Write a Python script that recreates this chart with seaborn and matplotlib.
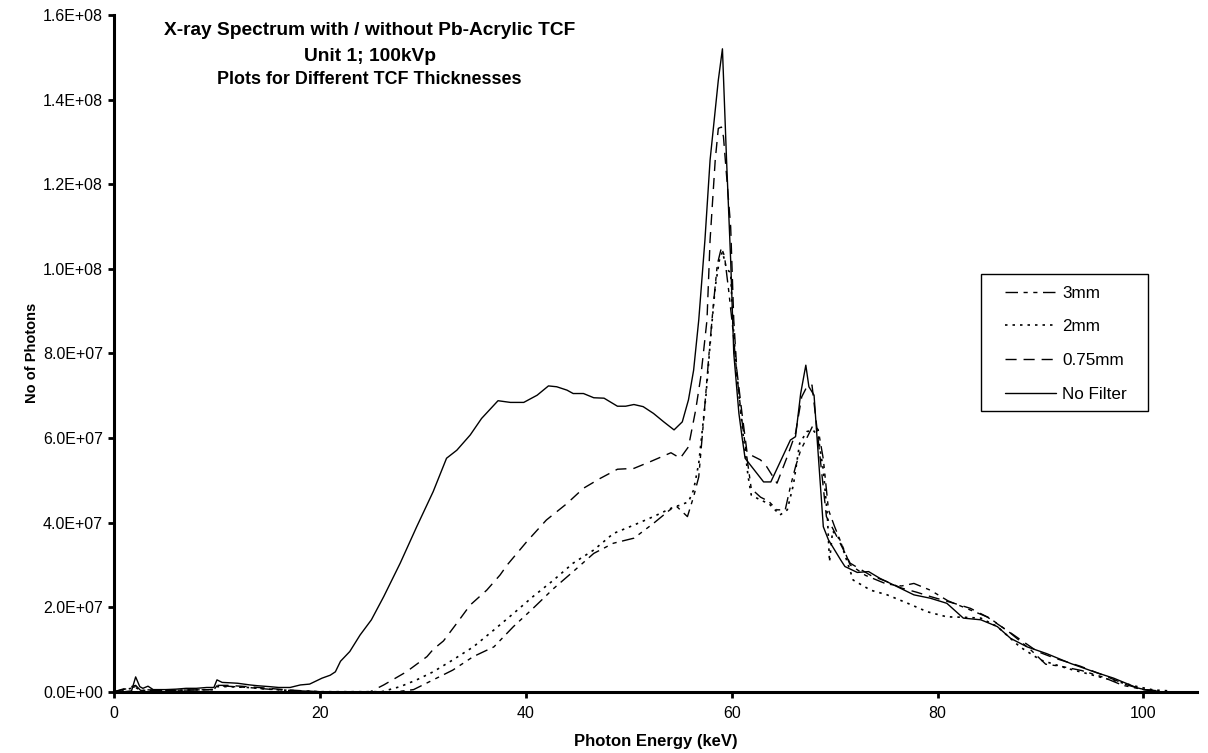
import matplotlib
matplotlib.use("Agg")
import matplotlib.pyplot as plt
import matplotlib.ticker as mticker
from matplotlib.patches import Rectangle
import seaborn as sns
import pandas as pd

# ---------------- data (values in units of 1E7 photons) ----------------
E_nofilter = [0, 1, 1.7, 2.1, 2.5, 2.8, 3.3, 3.8, 5, 6, 7, 8, 9, 9.7, 10.0, 10.5, 11.3, 12, 13.2, 14,
              15.1, 16, 17.1, 18.1, 19, 20.2, 21, 21.5, 22, 22.9, 23.9, 25.0, 26.2, 27.8, 29.4, 31.0,
              32.3, 33.3, 34.6, 35.7, 37.3, 38.5, 39.8, 41.1, 42.2, 43.0, 44.0, 44.6, 45.6, 46.6, 47.6,
              48.9, 49.7, 50.5, 51.4, 52.4, 53.4, 54.4, 55.2, 55.8, 56.3, 56.8, 57.4, 57.9, 58.7, 59.1,
              59.5, 59.9, 60.2, 60.7, 61.0, 61.3, 63.1, 63.8, 65.7, 66.2, 66.7, 67.2, 67.5, 68.0, 68.9,
              69.4, 70.6, 71.0, 72.2, 73.3, 74.4, 76.1, 77.7, 79.3, 80.9, 82.5, 84.2, 85.8, 87.1, 88.7,
              90.6, 92.9, 95.2, 97.1, 99.4, 100.5, 101.5]
V_nofilter = [0, 0, 0.02, 0.35, 0.12, 0.08, 0.13, 0.05, 0.05, 0.06, 0.08, 0.08, 0.1, 0.1, 0.28, 0.22,
              0.21, 0.2, 0.16, 0.14, 0.12, 0.1, 0.1, 0.16, 0.18, 0.32, 0.39, 0.47, 0.72, 0.95, 1.34,
              1.70, 2.25, 3.04, 3.90, 4.73, 5.52, 5.71, 6.07, 6.46, 6.88, 6.84, 6.84, 7.01, 7.23, 7.21,
              7.13, 7.05, 7.05, 6.95, 6.94, 6.75, 6.75, 6.79, 6.74, 6.58, 6.38, 6.19, 6.38, 6.9, 7.6,
              8.79, 10.68, 12.57, 14.46, 15.2, 12.57, 10.2, 8.0, 6.58, 6.03, 5.52, 4.96, 4.96, 5.95,
              6.03, 7.05, 7.72, 7.21, 7.01, 3.9, 3.59, 3.11, 2.96, 2.82, 2.84, 2.68, 2.48, 2.29, 2.21,
              2.09, 1.74, 1.70, 1.54, 1.26, 1.06, 0.90, 0.67, 0.47, 0.32, 0.09, 0.03, 0.01]

E_075mm = [0, 2.1, 2.5, 5, 9.7, 10, 11, 13, 15, 17, 20, 24.9, 26.2, 28.4, 30.4, 31.0, 32.0, 33.3, 34.6,
           36.2, 37.5, 38.2, 40.1, 42.0, 44.0, 45.6, 47.2, 48.9, 50.5, 52.1, 54.1, 55.0, 55.8, 56.5,
           57.0, 57.6, 57.9, 58.4, 58.7, 59.0, 59.2, 59.9, 60.2, 60.5, 61.0, 61.5, 62.8, 63.4, 64.4,
           65.4, 66.2, 66.8, 67.3, 67.8, 68.3, 69.2, 69.9, 71.5, 73.5, 75.1, 76.5, 78.0, 79.3, 81.6,
           83.2, 84.8, 87.4, 89.7, 91.3, 93.9, 96.1, 98.4, 100, 101.5]
V_075mm = [0, 0.15, 0.05, 0.03, 0.05, 0.15, 0.15, 0.12, 0.08, 0.04, 0.0, 0.0, 0.16, 0.47, 0.83, 1.0,
           1.2, 1.62, 2.05, 2.40, 2.76, 3.0, 3.55, 4.06, 4.45, 4.81, 5.04, 5.26, 5.28, 5.44, 5.65,
           5.52, 5.79, 6.66, 7.45, 8.79, 10.68, 12.57, 13.32, 13.35, 13.12, 10.99, 8.79, 7.6, 6.58,
           5.64, 5.48, 5.32, 4.93, 5.56, 6.11, 6.97, 7.21, 7.25, 6.19, 4.14, 3.82, 3.04, 2.75, 2.60,
           2.45, 2.35, 2.25, 2.09, 1.97, 1.77, 1.34, 0.95, 0.8, 0.6, 0.39, 0.16, 0.05, 0.02]

E_2mm = [0, 2.1, 2.6, 5, 9.7, 10, 11, 13, 15, 17, 20, 26, 27.8, 29.4, 31.0, 32.9, 34.9, 36.9, 38.8,
         40.7, 42.7, 44.6, 46.6, 48.5, 50.5, 52.4, 54.4, 55.0, 55.8, 56.3, 56.8, 57.5, 58.0, 58.4,
         58.8, 59.1, 59.5, 59.9, 60.1, 60.5, 61.0, 61.6, 61.9, 62.8, 63.6, 64.7, 65.4, 66.0, 66.6,
         67.3, 67.9, 68.4, 68.9, 69.3, 69.5, 69.8, 70.5, 71.8, 73.5, 75.1, 77.1, 79.0, 80.9, 82.5,
         84.2, 85.8, 88.0, 90.0, 92.6, 94.5, 96.8, 99.4, 101, 102.5]
V_2mm = [0, 0.1, 0.03, 0.03, 0.05, 0.12, 0.12, 0.1, 0.06, 0.03, 0, 0, 0.12, 0.28, 0.47, 0.75, 1.06,
         1.46, 1.85, 2.25, 2.64, 3.04, 3.35, 3.74, 3.94, 4.14, 4.37, 4.41, 4.49, 4.77, 5.4, 7.0, 8.5,
         9.57, 10.2, 10.4, 10.0, 9.9, 8.8, 7.5, 6.3, 5.08, 4.65, 4.53, 4.45, 4.18, 4.3, 4.9, 5.87,
         6.15, 6.19, 6.03, 5.24, 4.14, 3.07, 3.8, 3.6, 2.64, 2.40, 2.29, 2.09, 1.89, 1.77, 1.76,
         1.74, 1.54, 1.06, 0.75, 0.55, 0.43, 0.28, 0.12, 0.04, 0.02]

E_3mm = [0, 2.1, 2.6, 5, 9.7, 10, 11, 13, 15, 17, 20, 27.5, 29.1, 31.0, 32.9, 34.9, 36.9, 38.8, 40.7,
         42.7, 44.6, 46.6, 48.5, 50.5, 52.4, 54.0, 54.7, 55.7, 56.3, 56.8, 57.3, 57.8, 58.2, 58.6,
         59.0, 59.3, 59.7, 60.1, 60.5, 61.0, 61.5, 61.9, 62.8, 63.6, 64.4, 65.2, 65.7, 66.2, 66.7,
         67.3, 67.9, 68.4, 68.9, 69.4, 70.0, 71.5, 73.0, 75.0, 76.5, 77.7, 79.3, 81.0, 83.0, 85.0,
         87.0, 89.0, 90.5, 92.0, 94.0, 96.0, 98.0, 100, 101.5]
V_3mm = [0, 0.12, 0.03, 0.03, 0.05, 0.14, 0.13, 0.1, 0.06, 0.03, 0, 0, 0.05, 0.28, 0.51, 0.83, 1.06,
         1.54, 1.97, 2.44, 2.84, 3.27, 3.51, 3.63, 3.98, 4.30, 4.37, 4.14, 4.61, 5.08, 6.5, 8.0, 9.1,
         10.1, 10.5, 10.3, 9.5, 8.6, 7.5, 6.4, 5.5, 4.8, 4.6, 4.5, 4.3, 4.3, 4.85, 5.32, 5.71, 6.0,
         6.3, 6.2, 5.5, 4.3, 3.9, 3.0, 2.75, 2.55, 2.5, 2.56, 2.4, 2.15, 1.95, 1.75, 1.4, 1.0, 0.65,
         0.6, 0.5, 0.35, 0.15, 0.05, 0.02]

series_labels = ["3mm", "2mm", "0.75mm", "No Filter"]
x_ticks = [0, 20, 40, 60, 80, 100]
y_ticks = [0, 2e7, 4e7, 6e7, 8e7, 1e8, 1.2e8, 1.4e8, 1.6e8]
SCALE = 1e7

# ---------------- style ----------------
sns.set_theme(style="white")
plt.rcParams["font.family"] = ["Liberation Sans", "DejaVu Sans"]

fig = plt.figure(figsize=(12.08, 7.53), dpi=100)
ax = fig.add_axes([0.0944, 0.0814, 0.8965, 0.8987])

styles = {
    "3mm": (0, (9, 4, 3, 4, 3, 4)),
    "2mm": (0, (1.5, 3)),
    "0.75mm": (0, (8, 5)),
    "No Filter": "-",
}
widths = {"3mm": 1.0, "2mm": 1.2, "0.75mm": 1.0, "No Filter": 1.0}
data = {
    "3mm": (E_3mm, V_3mm),
    "2mm": (E_2mm, V_2mm),
    "0.75mm": (E_075mm, V_075mm),
    "No Filter": (E_nofilter, V_nofilter),
}

for lab in ["No Filter", "0.75mm", "2mm", "3mm"]:
    xs, vs = data[lab]
    df = pd.DataFrame({"E": xs, "N": [v * SCALE for v in vs]})
    sns.lineplot(data=df, x="E", y="N", ax=ax, color="black", linewidth=widths[lab],
                 linestyle=styles[lab], label=lab, estimator=None, sort=False)

ax.set_xlim(0, 105.2)
ax.set_ylim(0, 1.6e8)
ax.set_xticks(x_ticks)
ax.set_yticks(y_ticks)
ax.yaxis.set_major_formatter(mticker.FuncFormatter(lambda v, p: f"{v:.1E}"))
ax.xaxis.set_major_formatter(mticker.FuncFormatter(lambda v, p: f"{int(v)}"))

for s in ["top", "right"]:
    ax.spines[s].set_visible(False)
for s in ["left", "bottom"]:
    ax.spines[s].set_color("black")
    ax.spines[s].set_linewidth(2.2)
ax.tick_params(axis="both", direction="out", length=4, width=2, color="black",
               labelsize=11.5, labelcolor="black", pad=4)
ax.tick_params(axis="x", pad=6)
ax.tick_params(axis="y", left=True)
ax.tick_params(axis="x", bottom=True)
ax.grid(False)

ax.set_xlabel("Photon Energy (keV)", fontsize=12, fontweight="bold", color="black")
ax.set_ylabel("No of Photons", fontsize=10.5, fontweight="bold", color="black")
ax.xaxis.set_label_coords(0.5, -0.062)
ax.yaxis.set_label_coords(-0.069, 0.5)

ax.text(0.236, 0.977, "X-ray Spectrum with / without Pb-Acrylic TCF", transform=ax.transAxes,
        ha="center", va="center", fontsize=13.8, fontweight="bold", color="black")
ax.text(0.236, 0.939, "Unit 1; 100kVp", transform=ax.transAxes,
        ha="center", va="center", fontsize=13.8, fontweight="bold", color="black")
ax.text(0.236, 0.904, "Plots for Different TCF Thicknesses", transform=ax.transAxes,
        ha="center", va="center", fontsize=12.9, fontweight="bold", color="black")

# legend frame drawn separately, legend entries placed inside it
ax.add_patch(Rectangle((0.8006, 0.4148), 0.1542, 0.2025, transform=ax.transAxes,
                       facecolor="white", edgecolor="black", linewidth=1.0, zorder=5))
handles, labels = ax.get_legend_handles_labels()
hmap = dict(zip(labels, handles))
leg = ax.legend([hmap[l] for l in series_labels], series_labels, loc="upper left",
                bbox_to_anchor=(0.8227, 0.600), borderaxespad=0, frameon=False,
                fontsize=12.3, handlelength=3.0, handletextpad=0.35,
                labelspacing=1.1, borderpad=0.0)
leg.set_zorder(6)
for t in leg.get_texts():
    t.set_color("black")

fig.savefig("out.png", dpi=100, facecolor="white")
